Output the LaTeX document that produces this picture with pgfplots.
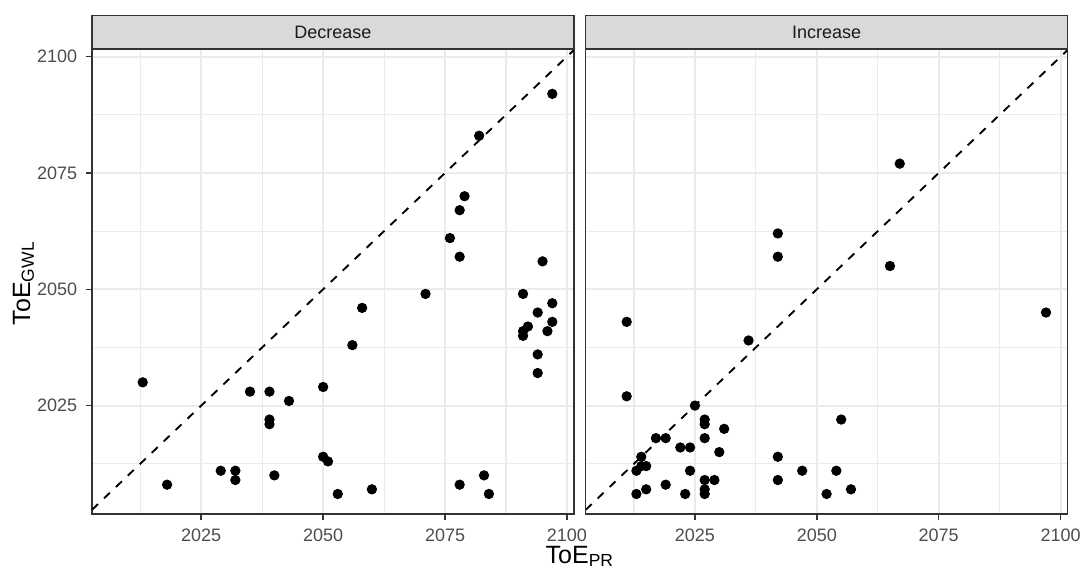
\documentclass[border=0pt]{standalone}
\usepackage{fontspec}
\setmainfont{Liberation Sans}
\usepackage{pgfplots}
\pgfplotsset{compat=1.18}

\definecolor{grey10}{HTML}{1A1A1A}
\definecolor{grey20}{HTML}{333333}
\definecolor{grey30}{HTML}{4D4D4D}
\definecolor{grey85}{HTML}{D9D9D9}
\definecolor{grey92}{HTML}{EBEBEB}

\tikzset{
  strip/.style={draw=grey20, fill=grey85, line width=0.6pt},
  striptext/.style={font=\fontsize{7.2}{8}\selectfont, text=grey10},
  pts/.style={only marks, mark=*, mark size=1.85pt, black},
  idline/.style={black, line width=0.75pt, dash pattern=on 3.3pt off 3.3pt},
}

\pgfplotsset{
  facet/.style={
    scale only axis,
    width=192.7pt, height=186pt,
    anchor=south west,
    xmin=2002.6, xmax=2101.4,
    ymin=2001.7, ymax=2101.65,
    xtick={2025,2050,2075,2100},
    xticklabels={2025,2050,2075,2100},
    ytick={2025,2050,2075,2100},
    minor xtick={2012.5,2037.5,2062.5,2087.5},
    minor ytick={2012.5,2037.5,2062.5,2087.5},
    grid=both,
    major grid style={draw=grey92, line width=0.8pt},
    minor grid style={draw=grey92, line width=0.45pt},
    axis line style={draw=grey20, line width=0.6pt},
    tick align=outside,
    tick pos=left,
    major tick length=2.4pt,
    minor tick length=0pt,
    tick style={draw=grey20, line width=0.6pt},
    ticklabel style={font=\fontsize{7.2}{8}\selectfont, text=grey30},
    clip mode=individual,
  },
}

\begin{document}
\begin{tikzpicture}
\useasboundingbox (-36.8pt,-21.2pt) rectangle (395.6pt,205.6pt);

% Decrease
\begin{axis}[facet, at={(0pt,0pt)},
    yticklabels={2025,2050,2075,2100}]
\addplot[idline] coordinates {(2002.6,2002.6) (2101.4,2101.4)};
\addplot[pts] coordinates {
  (2013,2030) (2018,2008) (2029,2011) (2032,2011) (2032,2009)
  (2035,2028) (2039,2028) (2039,2022) (2039,2021) (2040,2010)
  (2043,2026) (2050,2029) (2050,2014) (2051,2013) (2053,2006)
  (2056,2038) (2058,2046) (2060,2007) (2071,2049) (2076,2061)
  (2078,2067) (2078,2057) (2079,2070) (2078,2008) (2082,2083)
  (2083,2010) (2084,2006) (2091,2049) (2091,2041) (2091,2040)
  (2092,2042) (2094,2045) (2094,2036) (2094,2032) (2095,2056)
  (2096,2041) (2097,2047) (2097,2043) (2097,2092)
};
\draw[strip] (rel axis cs:0,1) rectangle (rel axis cs:1,1.0716);
\node[striptext] at (rel axis cs:0.5,1.0358) {Decrease};
\end{axis}

% Increase
\begin{axis}[facet, at={(197.48pt,0pt)},
    yticklabels={}, ytick style={draw=none}]
\addplot[idline] coordinates {(2002.6,2002.6) (2101.4,2101.4)};
\addplot[pts] coordinates {
  (2011,2043) (2011,2027) (2013,2011) (2013,2006) (2014,2014)
  (2014,2012) (2015,2012) (2015,2007) (2017,2018) (2019,2018)
  (2019,2008) (2022,2016) (2023,2006) (2024,2016) (2024,2011)
  (2025,2025) (2027,2022) (2027,2021) (2027,2018) (2027,2009)
  (2027,2007) (2027,2006) (2029,2009) (2030,2015) (2031,2020)
  (2036,2039) (2042,2062) (2042,2057) (2042,2014) (2042,2009)
  (2047,2011) (2052,2006) (2054,2011) (2055,2022) (2057,2007)
  (2065,2055) (2067,2077) (2097,2045)
};
\draw[strip] (rel axis cs:0,1) rectangle (rel axis cs:1,1.0716);
\node[striptext] at (rel axis cs:0.5,1.0358) {Increase};
\end{axis}

\node[font=\fontsize{10}{11}\selectfont] at (195.2pt,-17pt) {ToE\textsubscript{PR}};
\node[rotate=90, font=\fontsize{10}{11}\selectfont] at (-27.4pt,92.4pt) {ToE\textsubscript{GWL}};
\end{tikzpicture}
\end{document}
